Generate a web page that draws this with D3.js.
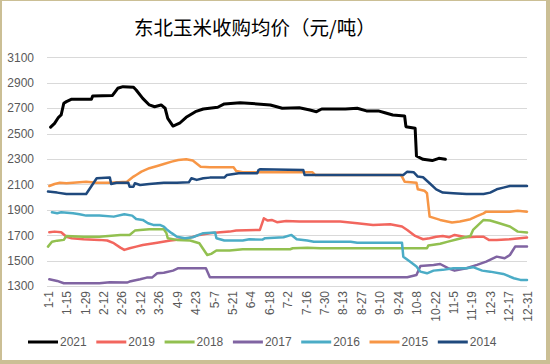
<!DOCTYPE html>
<html><head><meta charset="utf-8">
<script src="https://cdn.jsdelivr.net/npm/d3@7"></script>
<style>
html,body{margin:0;padding:0;background:#fff;}
svg{display:block;}
</style></head>
<body>
<svg id="chart" width="550" height="364"></svg>
<script>
// Tick labels (every 14th day of the year)
const tickLabels = ["1-1","1-15","1-29","2-12","2-26","3-12","3-26","4-9","4-23","5-7","5-21","6-4","6-18","7-2","7-16","7-30","8-13","8-27","9-10","9-24","10-8","10-22","11-5","11-19","12-3","12-17","12-31"];
const yTicks = [1300,1500,1700,1900,2100,2300,2500,2700,2900,3100];
const seriesNames = ["2021","2019","2018","2017","2016","2015","2014"];

// [dayOfYear index, price]
const s2021 = [[2,2550],[5,2580],[8,2628],[10,2646],[12,2738],[14,2751],[18,2770],[33,2770],[34,2796],[49,2800],[53,2856],[57,2869],[65,2864],[67,2843],[72,2777],[77,2725],[81,2711],[86,2725],[89,2699],[91,2620],[95,2559],[100,2581],[105,2628],[112,2672],[118,2693],[129,2707],[134,2733],[146,2743],[159,2733],[169,2725],[178,2699],[191,2703],[199,2685],[204,2672],[208,2693],[226,2693],[235,2699],[242,2678],[251,2678],[256,2664],[262,2646],[271,2638],[272,2554],[279,2541],[280,2323],[285,2297],[292,2287],[297,2305],[302,2297]];
const s2019 = [[1,1723],[5,1728],[10,1723],[14,1688],[18,1676],[27,1668],[39,1663],[45,1658],[50,1637],[55,1602],[58,1584],[62,1597],[67,1610],[72,1623],[83,1641],[93,1658],[105,1671],[115,1702],[123,1716],[131,1723],[138,1728],[143,1736],[159,1741],[161,1741],[164,1833],[167,1815],[170,1820],[174,1802],[181,1812],[191,1807],[222,1807],[235,1794],[247,1781],[260,1786],[269,1768],[273,1741],[279,1694],[285,1668],[290,1676],[295,1688],[300,1694],[305,1684],[309,1702],[313,1694],[318,1684],[326,1688],[331,1688],[335,1663],[341,1663],[351,1668],[364,1681]];
const s2018 = [[0,1610],[3,1649],[7,1657],[12,1663],[14,1694],[27,1688],[39,1688],[55,1702],[62,1702],[66,1736],[70,1741],[77,1747],[88,1747],[90,1716],[91,1676],[98,1663],[108,1658],[115,1637],[121,1544],[124,1553],[128,1579],[138,1579],[148,1589],[184,1589],[186,1597],[197,1602],[207,1597],[288,1597],[289,1618],[298,1632],[304,1649],[311,1668],[317,1684],[321,1694],[323,1741],[327,1781],[331,1820],[336,1815],[343,1794],[351,1768],[357,1728],[364,1721]];
const s2017 = [[1,1353],[7,1340],[12,1322],[39,1322],[47,1330],[60,1327],[62,1335],[70,1353],[75,1366],[79,1366],[83,1400],[88,1405],[95,1421],[99,1440],[120,1440],[123,1369],[273,1369],[280,1387],[283,1458],[293,1466],[298,1473],[304,1440],[309,1421],[318,1440],[326,1466],[333,1492],[341,1531],[347,1518],[351,1544],[355,1610],[364,1610]];
const s2016 = [[3,1880],[7,1873],[10,1880],[19,1873],[24,1865],[29,1854],[39,1854],[50,1846],[58,1865],[64,1854],[67,1827],[72,1820],[76,1794],[80,1781],[85,1781],[88,1768],[90,1747],[94,1716],[98,1688],[104,1676],[110,1684],[118,1716],[127,1721],[128,1676],[134,1658],[148,1658],[153,1668],[163,1665],[165,1676],[179,1684],[185,1702],[189,1668],[197,1658],[202,1649],[230,1649],[235,1641],[269,1641],[270,1531],[275,1492],[280,1453],[283,1413],[288,1400],[293,1421],[300,1427],[308,1440],[318,1440],[323,1448],[330,1421],[336,1413],[346,1395],[354,1361],[359,1348],[364,1348]];
const s2015 = [[1,2087],[5,2103],[9,2113],[14,2108],[19,2113],[29,2121],[37,2113],[47,2113],[60,2121],[65,2161],[67,2174],[71,2200],[77,2227],[83,2245],[88,2260],[94,2279],[99,2292],[105,2297],[110,2287],[116,2239],[123,2234],[141,2234],[143,2205],[148,2195],[201,2195],[203,2174],[268,2174],[269,2161],[271,2121],[280,2113],[281,2061],[286,2050],[288,2030],[290,1846],[298,1820],[307,1800],[313,1807],[321,1826],[326,1850],[331,1872],[333,1885],[351,1885],[357,1893],[364,1885]];
const s2014 = [[0,2043],[7,2035],[14,2024],[29,2024],[37,2148],[47,2153],[48,2103],[52,2113],[61,2113],[62,2082],[65,2082],[66,2109],[70,2095],[77,2103],[88,2113],[98,2113],[107,2116],[109,2148],[113,2135],[118,2148],[123,2153],[134,2153],[136,2174],[145,2187],[159,2187],[160,2213],[161,2219],[194,2213],[195,2174],[270,2174],[273,2200],[278,2195],[281,2161],[285,2156],[290,2109],[295,2061],[300,2035],[308,2030],[318,2024],[331,2024],[336,2035],[341,2061],[346,2074],[351,2087],[364,2087]];

const seriesData = [s2021,s2019,s2018,s2017,s2016,s2015,s2014];
const colors = ["#000000","#f2665e","#92c050","#8064a2","#4bacc6","#f79646","#1f497d"];
const widths = [3,2.5,2.5,2.5,2.5,2.5,2.5];

const svg = d3.select("#chart");
const W = 550, H = 364;
const font = "'Liberation Sans', Arial, sans-serif";

// frame
svg.append("rect").attr("x",0).attr("y",0).attr("width",W).attr("height",H).attr("fill","#cbbf95");
svg.append("rect").attr("x",2).attr("y",1).attr("width",W-6).attr("height",H-5).attr("fill","#ffffff");

const x = d3.scaleLinear().domain([0,364]).range([48,527]);
const y = d3.scaleLinear().domain([1300,3100]).range([286,57.3]);

// gridlines
svg.append("g").selectAll("line").data(yTicks).join("line")
  .attr("x1",47).attr("x2",527)
  .attr("y1",d=>Math.round(y(d))+0.5).attr("y2",d=>Math.round(y(d))+0.5)
  .attr("stroke","#d9d9d9").attr("stroke-width",1);

// y axis labels
const yAxis = d3.axisLeft(y).tickValues(yTicks).tickSize(0).tickPadding(0).tickFormat(d3.format("d"));
const gy = svg.append("g").attr("transform","translate(34,0)").call(yAxis);
gy.select(".domain").remove();
gy.selectAll("text").attr("fill","#595959").style("font-family",font).style("font-size","12px");

// x axis labels
const tickDays = tickLabels.map((d,i)=>i*14);
const xAxis = d3.axisBottom(x).tickValues(tickDays).tickSize(0).tickFormat((d,i)=>tickLabels[i]);
const gx = svg.append("g").attr("transform","translate(0,291)").call(xAxis);
gx.select(".domain").remove();
gx.selectAll("text")
  .attr("fill","#595959").style("font-family",font).style("font-size","12px")
  .attr("text-anchor","end")
  .attr("transform","rotate(-90)")
  .attr("x",0).attr("y",0).attr("dx",0).attr("dy","0.35em");

// lines
const line = d3.line().x(d=>x(d[0])).y(d=>y(d[1]));
seriesData.forEach((s,i)=>{
  svg.append("path").datum(s)
    .attr("d",line).attr("fill","none")
    .attr("stroke",colors[i]).attr("stroke-width",widths[i])
    .attr("stroke-linejoin","round").attr("stroke-linecap","round");
});

// title
svg.append("text").attr("x",134).attr("y",35)
  .attr("text-anchor","start")
  .style("font-family","'Noto Sans CJK SC', sans-serif").style("font-size","19.5px")
  .attr("fill","#000").text("东北玉米收购均价（元/吨）");

// legend
const lg = svg.append("g");
seriesNames.forEach((n,i)=>{
  const lx = 28 + i*68.3;
  lg.append("line").attr("x1",lx).attr("x2",lx+30).attr("y1",342).attr("y2",342)
    .attr("stroke",colors[i]).attr("stroke-width",3);
  lg.append("text").attr("x",lx+32).attr("y",342).attr("dy","0.35em")
    .style("font-family",font).style("font-size","12px").attr("fill","#595959").text(n);
});
</script>
</body></html>
